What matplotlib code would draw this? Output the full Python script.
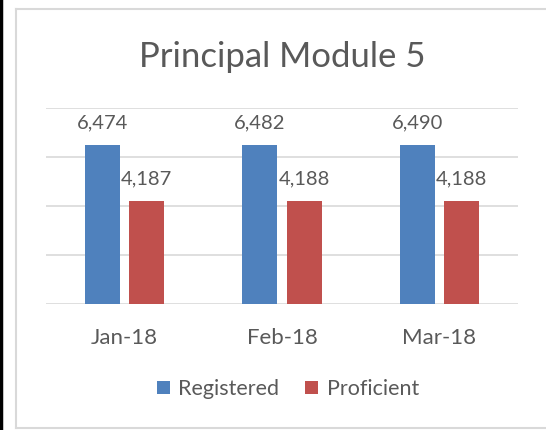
import numpy as np
import matplotlib
matplotlib.use("Agg")
from matplotlib import pyplot as plt
from matplotlib.lines import Line2D

months = ["Jan-18", "Feb-18", "Mar-18"]
registered = [6474, 6482, 6490]
proficient = [4187, 4188, 4188]
series_names = ["Registered", "Proficient"]

W, H = 546, 430
plt.rcParams["font.family"] = ["Lato", "DejaVu Sans"]
txt = "#595959"

fig = plt.figure(figsize=(W / 100, H / 100), dpi=100)

# outer chart frame (runs off the right edge) and the black line on the left
def fline(xs, ys, **kw):
    fig.add_artist(Line2D([v / W for v in xs], [1 - v / H for v in ys],
                          transform=fig.transFigure, **kw))

frame = dict(color="#d9d9d9", linewidth=1.5)
fline([16, 16], [9, 428], **frame)
fline([16, W + 5], [9, 9], **frame)
fline([16, W + 5], [428, 428], **frame)
fline([1.2, 1.2], [0, H], color="black", linewidth=2.5)

ax = fig.add_axes([46 / W, (H - 304) / H, 472 / W, 196 / H])
x = np.arange(len(months))
w = 0.2225
off = 0.14
b1 = ax.bar(x - off, registered, w, color="#4f81bd", label=series_names[0], zorder=3)
b2 = ax.bar(x + off, proficient, w, color="#c0504d", label=series_names[1], zorder=3)

for bars, vals in [(b1, registered), (b2, proficient)]:
    for b, v in zip(bars, vals):
        ax.annotate(f"{v:,}", (b.get_x() + b.get_width() / 2, v), xytext=(0, 10),
                    textcoords="offset points", ha="center", va="bottom",
                    fontsize=14.5, color=txt)

ax.set_xlim(-0.5, 2.5)
ax.set_ylim(0, 8000)
ax.set_yticks([0, 2000, 4000, 6000, 8000])
ax.yaxis.grid(True, color="#d9d9d9", linewidth=1.2, zorder=0)
ax.set_yticklabels([])
ax.tick_params(axis="y", length=0)
ax.tick_params(axis="x", length=0, pad=17, labelsize=16, labelcolor=txt)
ax.set_xticks(x)
ax.set_xticklabels(months)
for s in ax.spines.values():
    s.set_visible(False)

fig.text(282 / W, 1 - 57 / H, "Principal Module 5", ha="center", va="center",
         fontsize=25, color=txt)

fig.legend(handles=[b1, b2], loc="center", bbox_to_anchor=(288 / W, 1 - 389 / H), ncol=2,
           frameon=False, fontsize=15.5, labelcolor=txt, handlelength=0.6, handleheight=0.6,
           handletextpad=0.4, columnspacing=1.2)

fig.savefig("out.png", dpi=100)
